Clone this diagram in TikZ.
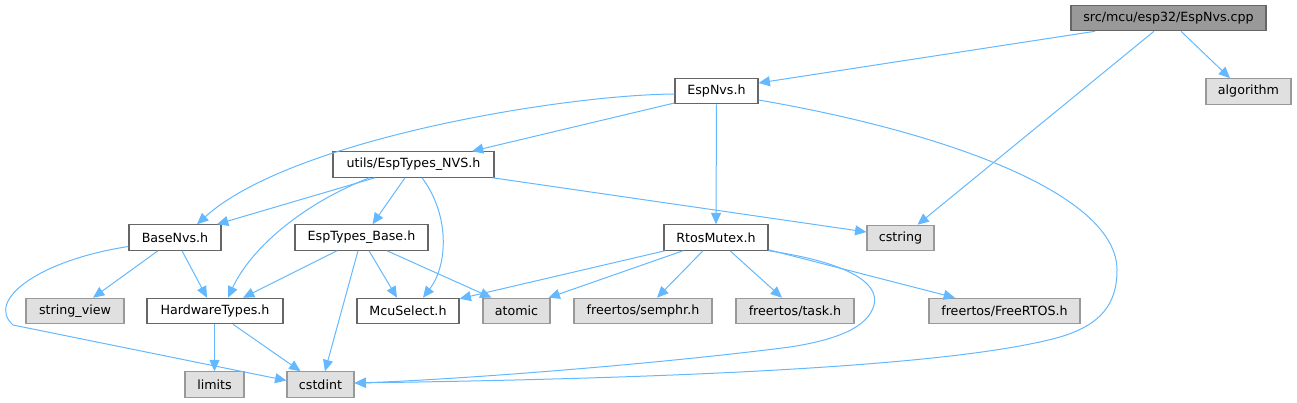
\documentclass[tikz,border=0pt]{standalone}
\usepackage{fontspec}
\setmainfont{DejaVu Sans}
\usetikzlibrary{arrows.meta,calc}
\definecolor{edgec}{HTML}{63B8FF}
\definecolor{boxborder}{HTML}{666666}
\definecolor{extfill}{HTML}{E0E0E0}
\definecolor{extborder}{HTML}{999999}
\definecolor{rootfill}{HTML}{999999}
\tikzset{
  box/.style={draw=boxborder, fill=white, line width=0.9pt, minimum height=19pt, inner sep=0pt,
    font=\fontsize{9.5}{11}\selectfont, text=black},
  ext/.style={box, draw=extborder, fill=extfill},
  rootbox/.style={box, draw=boxborder, fill=rootfill},
  edge/.style={draw=edgec, line width=0.75pt, -{Triangle[length=8.5pt,width=7.5pt]}}
}
\begin{document}
\begin{tikzpicture}[x=0.75pt,y=-0.75pt]
\useasboundingbox (0,0) rectangle (1297,403);
% nodes
\node[rootbox, minimum width=146.25pt] (cpp) at (1168.5,18) {src/mcu/esp32/EspNvs.cpp};
\node[box, minimum width=62.25pt] (espnvs) at (716.5,91) {EspNvs.h};
\node[ext, minimum width=63.75pt] (algo) at (1248.5,91.5) {algorithm};
\node[box, minimum width=120.75pt] (nvs) at (413.5,164.5) {utils/EspTypes\_NVS.h};
\node[box, minimum width=69pt] (basenvs) at (175,237.5) {BaseNvs.h};
\node[box, minimum width=99.75pt] (etb) at (361.5,237.5) {EspTypes\_Base.h};
\node[box, minimum width=78pt] (rm) at (716,237.5) {RtosMutex.h};
\node[ext, minimum width=50.25pt] (cstring) at (900.5,238) {cstring};
\node[ext, minimum width=73.5pt] (sv) at (75,311) {string\_view};
\node[box, minimum width=102pt] (hw) at (215,311) {HardwareTypes.h};
\node[box, minimum width=76.5pt] (mcu) at (408,311) {McuSelect.h};
\node[ext, minimum width=50.25pt] (atomic) at (516.5,311) {atomic};
\node[ext, minimum width=103.5pt] (semphr) at (643,311) {freertos/semphr.h};
\node[ext, minimum width=88.5pt] (task) at (795,311) {freertos/task.h};
\node[ext, minimum width=113.25pt] (frtos) at (1004.5,311) {freertos/FreeRTOS.h};
\node[ext, minimum width=44.25pt] (limits) at (214.5,384.5) {limits};
\node[ext, minimum width=50.25pt] (cstdint) at (320.5,384.5) {cstdint};
% edges from cpp
\draw[edge] ($(cpp.south)+(-73.5,0)$) -- ($(espnvs.east)+(0,-8)$);
\draw[edge] ($(cpp.south)+(-14.5,0)$) -- ($(cstring.north)+(17,0)$);
\draw[edge] ($(cpp.south)+(12.5,0)$) -- ($(algo.north)+(-18.5,0)$);
% edges from EspNvs.h
\draw[edge] ($(espnvs.west)+(0,3)$) .. controls (560,95) and (290,140) .. ($(basenvs.north)+(22,0)$);
\draw[edge] ($(espnvs.west)+(0,12)$) -- ($(nvs.north)+(58.5,0)$);
\draw[edge] (espnvs.south) -- (rm.north);
\draw[edge] ($(espnvs.east)+(0,9)$) .. controls (950,133) and (1117,195) .. (1117,270)
   .. controls (1117,305) and (1100,325) .. (1060,337)
   .. controls (960,365) and (700,378) .. ($(cstdint.east)+(0,-1.5)$);
% edges from EspTypes_NVS.h
\draw[edge] ($(nvs.south)+(-38.5,0)$) -- ($(basenvs.north)+(42,0)$);
\draw[edge] ($(nvs.south)+(-44,0)$) .. controls (300,205) and (250,250) .. ($(hw.north)+(13,0)$);
\draw[edge] ($(nvs.south)+(-8.5,0)$) -- ($(etb.north)+(11,0)$);
\draw[edge] ($(nvs.south)+(8.5,0)$) .. controls (450,215) and (448,265) .. ($(mcu.north)+(15,0)$);
\draw[edge] ($(nvs.south east)+(-2,0)$) -- ($(cstring.west)+(0,-6)$);
% edges from BaseNvs.h
\draw[edge] ($(basenvs.south)+(-17,0)$) -- ($(sv.north)+(18,0)$);
\draw[edge] ($(basenvs.south)+(7,0)$) -- ($(hw.north)+(-8,0)$);
\draw[edge] ($(basenvs.west)+(0,9)$) .. controls (40,260) and (-15,300) .. (13,325) -- ($(cstdint.west)+(0,-4)$);
% edges from HardwareTypes.h
\draw[edge] ($(hw.south)+(-0.5,0)$) -- (limits.north);
\draw[edge] ($(hw.south)+(18,0)$) -- ($(cstdint.north)+(-20,0)$);
% edges from EspTypes_Base.h
\draw[edge] ($(etb.south)+(-24.5,0)$) -- ($(hw.north)+(28,0)$);
\draw[edge] ($(etb.south)+(-3.5,0)$) -- ($(cstdint.north)+(4.5,0)$);
\draw[edge] ($(etb.south)+(7.5,0)$) -- ($(mcu.north)+(-11,0)$);
\draw[edge] ($(etb.south)+(25.5,0)$) -- ($(atomic.north)+(-25,0)$);
% edges from RtosMutex.h
\draw[edge] ($(rm.south)+(-51,0)$) -- ($(mcu.north east)+(0,1)$);
\draw[edge] ($(rm.south)+(-33,0)$) -- ($(atomic.north)+(32,0)$);
\draw[edge] ($(rm.south)+(-13,0)$) -- ($(semphr.north)+(14,0)$);
\draw[edge] ($(rm.south)+(14,0)$) -- ($(task.north)+(-13,0)$);
\draw[edge] ($(rm.south east)+(0,-1)$) -- ($(frtos.north)+(-49.5,0)$);
\draw[edge] ($(rm.south east)+(0,0)$) .. controls (845,262) and (880,282) .. (874,305)
   .. controls (868,328) and (835,340) .. (790,347)
   .. controls (650,365) and (450,380) .. ($(cstdint.east)+(0,-1.5)$);
\end{tikzpicture}
\end{document}
